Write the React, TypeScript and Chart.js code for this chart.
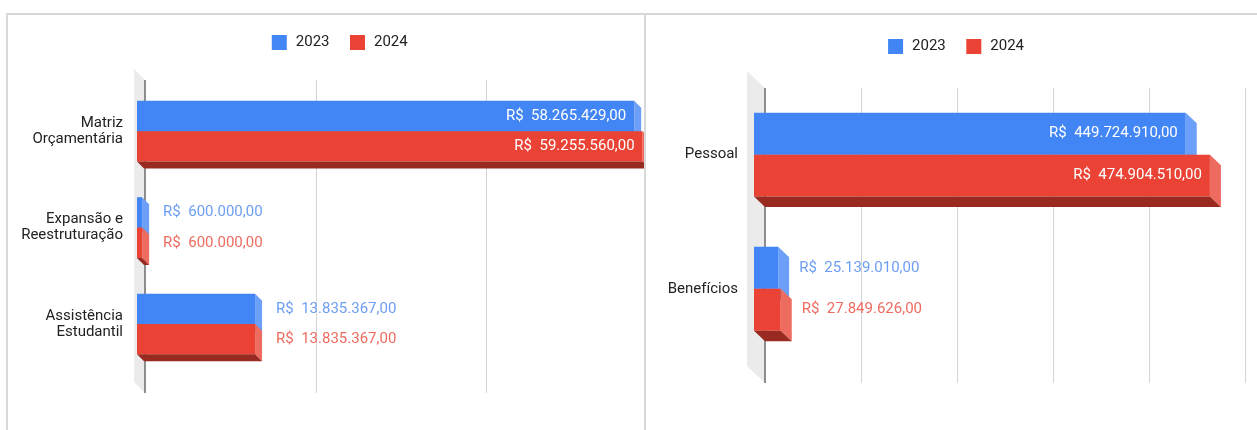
import React, { useEffect, useRef } from 'react';
import { Chart, registerables } from 'chart.js';

Chart.register(...registerables);

// ---------- data ----------
const SERIES_LABELS = ['2023', '2024'];

const LEFT_CATEGORIES = [
  ['Matriz', 'Orçamentária'],
  ['Expansão e', 'Reestruturação'],
  ['Assistência', 'Estudantil'],
];
const LEFT_2023 = [58265429, 600000, 13835367];
const LEFT_2024 = [59255560, 600000, 13835367];
const LEFT_AXIS_MAX = 60000000;
const LEFT_AXIS_STEP = 20000000;

const RIGHT_CATEGORIES = ['Pessoal', 'Benefícios'];
const RIGHT_2023 = [449724910, 25139010];
const RIGHT_2024 = [474904510, 27849626];
const RIGHT_AXIS_MAX = 500000000;
const RIGHT_AXIS_STEP = 100000000;

// ---------- styles ----------
const FRONT_COLORS = ['#4285f4', '#ea4335'];
const SIDE_COLORS = ['#6c9ff7', '#ee6b5f'];
const BOTTOM_COLORS = ['#2f62c6', '#982a21'];
const OUTSIDE_LABEL_COLORS = ['#6d9ef3', '#ee6b60'];
const FONT = 'Roboto';

type Layout = {
  canvasWidth: number;
  padTop: number;
  padLeft: number;
  padRight: number;
  padBottom: number;
  yAxisWidth: number;
  rightAxisWidth: number;
  topAxisHeight: number;
  tickPadding: number;
  categoryPercentage: number;
  barDx: number;
  barDy: number;
  gridOffset: number;
  gridTopOff: number;
  gridBottomOff: number;
  wallDx: number;
  wallDy: number;
  labelGap: number;
  insideInset: number;
};

const LEFT_LAYOUT: Layout = {
  canvasWidth: 700,
  padTop: 14.5,
  padLeft: 0,
  padRight: 22,
  padBottom: 57.8,
  yAxisWidth: 137,
  rightAxisWidth: 29,
  topAxisHeight: 21.5,
  tickPadding: 14,
  categoryPercentage: 0.63,
  barDx: 7,
  barDy: 7,
  gridOffset: 8,
  gridTopOff: -3,
  gridBottomOff: 20.8,
  wallDx: 11,
  wallDy: 11,
  labelGap: 14,
  insideInset: 8,
};

const RIGHT_LAYOUT: Layout = {
  canvasWidth: 1320,
  padTop: 18.5,
  padLeft: 600,
  padRight: 9.4,
  padBottom: 74.2,
  yAxisWidth: 154,
  rightAxisWidth: 76.6,
  topAxisHeight: 22.1,
  tickPadding: 16,
  categoryPercentage: 0.626,
  barDx: 11,
  barDy: 10.5,
  gridOffset: 11,
  gridTopOff: 0.4,
  gridBottomOff: 27.2,
  wallDx: 18,
  wallDy: 17,
  labelGap: 10,
  insideInset: 8,
};

function brl(v: number): string {
  const s = Math.round(v)
    .toString()
    .replace(/\B(?=(\d{3})+(?!\d))/g, '.');
  return 'R$  ' + s + ',00';
}

function makeThreeDPlugin(L: Layout) {
  return {
    id: 'threeD',
    beforeDatasetsDraw(chart: any) {
      const ctx: CanvasRenderingContext2D = chart.ctx;
      const xs = chart.scales.x;
      const area = chart.chartArea;
      const zeroBack = xs.getPixelForValue(0) + L.gridOffset;
      const gTop = area.top + L.gridTopOff;
      const gBot = area.bottom + L.gridBottomOff;

      ctx.save();
      // side wall
      ctx.fillStyle = '#ebebeb';
      ctx.beginPath();
      ctx.moveTo(zeroBack - L.wallDx, gTop - L.wallDy);
      ctx.lineTo(zeroBack, gTop);
      ctx.lineTo(zeroBack, gBot);
      ctx.lineTo(zeroBack - L.wallDx, gBot - L.wallDy);
      ctx.closePath();
      ctx.fill();

      // gridlines on back plane
      ctx.strokeStyle = '#d4d4d4';
      ctx.lineWidth = 1;
      xs.ticks.forEach((t: any) => {
        if (t.value === 0) return;
        const x = Math.round(xs.getPixelForValue(t.value) + L.gridOffset) + 0.5;
        ctx.beginPath();
        ctx.moveTo(x, gTop);
        ctx.lineTo(x, gBot);
        ctx.stroke();
      });

      // baseline axis
      ctx.strokeStyle = '#6b6b6b';
      ctx.lineWidth = 1.5;
      ctx.beginPath();
      ctx.moveTo(zeroBack, gTop);
      ctx.lineTo(zeroBack, gBot);
      ctx.stroke();

      // bars with extrusion, dataset by dataset (top bar first)
      const dx = L.barDx;
      const dy = L.barDy;
      chart.data.datasets.forEach((_ds: any, di: number) => {
        const meta = chart.getDatasetMeta(di);
        meta.data.forEach((el: any) => {
          el.draw(ctx, area);
          const { x, y, base, height } = el.getProps(['x', 'y', 'base', 'height'], true);
          const left = Math.min(x, base);
          const right = Math.max(x, base);
          const top = y - height / 2;
          const bottom = y + height / 2;
          // right side face
          ctx.fillStyle = SIDE_COLORS[di];
          ctx.beginPath();
          ctx.moveTo(right, top);
          ctx.lineTo(right + dx, top + dy);
          ctx.lineTo(right + dx, bottom + dy);
          ctx.lineTo(right, bottom);
          ctx.closePath();
          ctx.fill();
          // bottom face
          ctx.fillStyle = BOTTOM_COLORS[di];
          ctx.beginPath();
          ctx.moveTo(left, bottom);
          ctx.lineTo(right, bottom);
          ctx.lineTo(right + dx, bottom + dy);
          ctx.lineTo(left + dx, bottom + dy);
          ctx.closePath();
          ctx.fill();
        });
      });

      // value labels
      ctx.font = `15px ${FONT}`;
      ctx.textBaseline = 'middle';
      chart.data.datasets.forEach((ds: any, di: number) => {
        const meta = chart.getDatasetMeta(di);
        meta.data.forEach((el: any, i: number) => {
          const { x, y, base } = el.getProps(['x', 'y', 'base'], true);
          const text = brl(ds.data[i]);
          const tw = ctx.measureText(text).width;
          const barW = Math.abs(x - base);
          const right = Math.max(x, base);
          if (tw + 2 * L.insideInset <= barW) {
            ctx.fillStyle = '#ffffff';
            ctx.textAlign = 'right';
            ctx.fillText(text, right - L.insideInset, y);
          } else {
            ctx.fillStyle = OUTSIDE_LABEL_COLORS[di];
            ctx.textAlign = 'left';
            ctx.fillText(text, right + dx + L.labelGap, y);
          }
        });
      });
      ctx.restore();
      return false;
    },
  };
}

type PanelProps = {
  left: number;
  width: number;
  layout: Layout;
  categories: any[];
  values2023: number[];
  values2024: number[];
  axisMax: number;
  axisStep: number;
};

function ChartPanel({ left, width, layout, categories, values2023, values2024, axisMax, axisStep }: PanelProps) {
  const ref = useRef<HTMLCanvasElement | null>(null);

  useEffect(() => {
    if (!ref.current) return;
    const L = layout;
    const chart = new Chart(ref.current, {
      type: 'bar',
      data: {
        labels: categories,
        datasets: [
          {
            label: SERIES_LABELS[0],
            data: values2023,
            backgroundColor: FRONT_COLORS[0],
            borderWidth: 0,
            categoryPercentage: L.categoryPercentage,
            barPercentage: 1,
          },
          {
            label: SERIES_LABELS[1],
            data: values2024,
            backgroundColor: FRONT_COLORS[1],
            borderWidth: 0,
            categoryPercentage: L.categoryPercentage,
            barPercentage: 1,
          },
        ],
      },
      options: {
        indexAxis: 'y',
        responsive: false,
        animation: false,
        events: [],
        devicePixelRatio: 1,
        layout: {
          padding: { top: L.padTop, left: L.padLeft, right: L.padRight, bottom: L.padBottom },
        },
        scales: {
          x: {
            type: 'linear',
            position: 'top',
            min: 0,
            max: axisMax,
            ticks: { stepSize: axisStep, display: false },
            grid: { display: false, drawTicks: false },
            border: { display: false },
            afterFit: (s: any) => {
              s.height = L.topAxisHeight;
            },
          },
          y: {
            type: 'category',
            offset: true,
            grid: { display: false, drawTicks: false },
            border: { display: false },
            ticks: {
              padding: L.tickPadding,
              color: '#222222',
              autoSkip: false,
              font: { family: FONT, size: 15, lineHeight: 1.05 },
            },
            afterFit: (s: any) => {
              s.width = L.yAxisWidth;
            },
          },
          y2: {
            type: 'linear',
            position: 'right',
            display: true,
            ticks: { display: false },
            grid: { display: false, drawTicks: false },
            border: { display: false },
            afterFit: (s: any) => {
              s.width = L.rightAxisWidth;
            },
          },
        },
        plugins: {
          tooltip: { enabled: false },
          legend: {
            display: true,
            position: 'top',
            align: 'center',
            labels: {
              boxWidth: 18,
              boxHeight: 18,
              padding: 19,
              color: '#222222',
              font: { family: FONT, size: 15 },
              generateLabels: (c: any) =>
                (Chart.defaults.plugins.legend.labels.generateLabels as any)(c).map((it: any) => ({
                  ...it,
                  strokeStyle: '#ffffff',
                  lineWidth: 3,
                })),
            },
          },
        },
      } as any,
      plugins: [makeThreeDPlugin(L) as any],
    });
    return () => chart.destroy();
  }, []);

  return (
    <div
      style={{
        position: 'absolute',
        left,
        top: 15,
        width,
        height: 415,
        overflow: 'hidden',
      }}
    >
      <canvas
        ref={ref}
        width={layout.canvasWidth}
        height={430}
        style={{
          position: 'absolute',
          left: -left,
          top: -15,
          width: layout.canvasWidth,
          height: 430,
        }}
      />
    </div>
  );
}

export default function App() {
  const lineColor = '#d8d8d8';
  return (
    <div
      style={{
        position: 'fixed',
        left: 0,
        top: 0,
        width: 1257,
        height: 430,
        background: '#ffffff',
        overflow: 'hidden',
      }}
    >
      <ChartPanel
        left={8}
        width={636}
        layout={LEFT_LAYOUT}
        categories={LEFT_CATEGORIES}
        values2023={LEFT_2023}
        values2024={LEFT_2024}
        axisMax={LEFT_AXIS_MAX}
        axisStep={LEFT_AXIS_STEP}
      />
      <ChartPanel
        left={646}
        width={611}
        layout={RIGHT_LAYOUT}
        categories={RIGHT_CATEGORIES}
        values2023={RIGHT_2023}
        values2024={RIGHT_2024}
        axisMax={RIGHT_AXIS_MAX}
        axisStep={RIGHT_AXIS_STEP}
      />
      <div style={{ position: 'absolute', left: 6, top: 13, width: 1251, height: 2, background: lineColor }} />
      <div style={{ position: 'absolute', left: 6, top: 13, width: 2, height: 417, background: lineColor }} />
      <div style={{ position: 'absolute', left: 644, top: 13, width: 2, height: 417, background: lineColor }} />
    </div>
  );
}
